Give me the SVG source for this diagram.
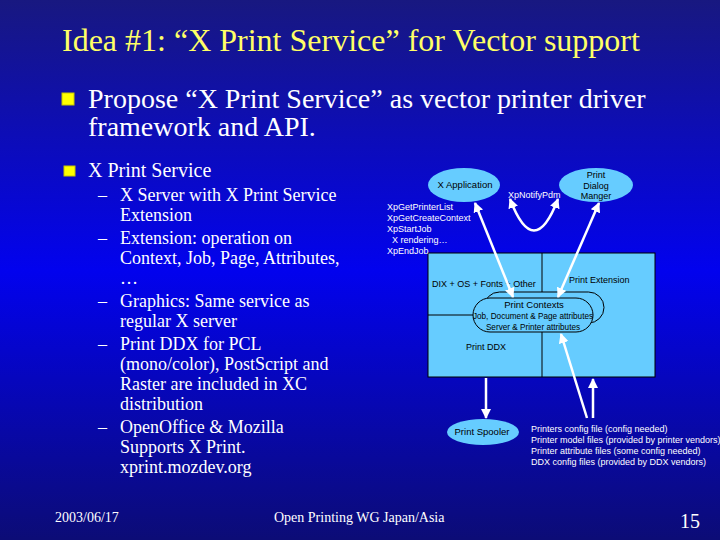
<svg xmlns="http://www.w3.org/2000/svg" width="720" height="540" viewBox="0 0 720 540">
<defs>
<linearGradient id="bg" x1="0" y1="0" x2="0" y2="1">
<stop offset="0" stop-color="#181880"/>
<stop offset="0.5" stop-color="#0202ee"/>
<stop offset="1" stop-color="#0c0c76"/>
</linearGradient>
<marker id="ah" viewBox="0 0 10 10" refX="9" refY="5" markerWidth="10" markerHeight="10" markerUnits="userSpaceOnUse" orient="auto-start-reverse">
<path d="M0,0 L10,5 L0,10 z" fill="#ffffff"/>
</marker>
<style>
.title{font-family:'Liberation Serif','Times New Roman',serif;font-size:32px;fill:#ffff66}
.body{font-family:'Liberation Serif','Times New Roman',serif;fill:#ffffff}
.l1{font-size:28px}
.l2{font-size:20px}
.l3{font-size:18px}
.sm{font-family:'Liberation Sans',Arial,sans-serif;font-size:9px;fill:#000000}
.wt{font-family:'Liberation Sans',Arial,sans-serif;font-size:9px;fill:#ffffff;font-variant-ligatures:none}
.big{font-size:9.5px}
.ctx{font-size:8.2px}
.box{fill:#66ccff;stroke:#000000;stroke-width:1}
.ell{fill:#66ccff;stroke:none}
.ln{stroke:#000000;stroke-width:1;fill:none}
.arr{stroke:#ffffff;stroke-width:2.5;fill:none}
.bul{fill:#ffff00;stroke:#c8c800;stroke-width:1}
</style>
</defs>
<rect x="0" y="0" width="720" height="540" fill="url(#bg)"/>

<g id="title">
<text class="title" x="62" y="51">Idea #1: “X Print Service” for Vector support</text>
</g>

<g id="bullets">
<rect class="bul" x="62" y="93" width="12" height="12"/>
<text class="body l1" x="88" y="108">Propose “X Print Service” as vector printer driver</text>
<text class="body l1" x="88" y="136">framework and API.</text>
<rect class="bul" x="64" y="166" width="11" height="10"/>
<text class="body l2" x="88" y="177">X Print Service</text>
<g class="body l3">
<text x="98" y="201">–</text>
<text x="120" y="201">X Server with X Print Service</text>
<text x="120" y="221">Extension</text>
<text x="98" y="244">–</text>
<text x="120" y="244">Extension: operation on</text>
<text x="120" y="264">Context, Job, Page, Attributes,</text>
<text x="120" y="284">…</text>
<text x="98" y="307">–</text>
<text x="120" y="307">Graphics: Same service as</text>
<text x="120" y="327">regular X server</text>
<text x="98" y="350">–</text>
<text x="120" y="350">Print DDX for PCL</text>
<text x="120" y="370">(mono/color), PostScript and</text>
<text x="120" y="390">Raster are included in XC</text>
<text x="120" y="410">distribution</text>
<text x="98" y="433">–</text>
<text x="120" y="433">OpenOffice &amp; Mozilla</text>
<text x="120" y="453">Supports X Print.</text>
<text x="120" y="473">xprint.mozdev.org</text>
</g>
</g>

<g id="xserver">
<rect class="box" x="428" y="253" width="227" height="124"/>
<line class="ln" x1="542" y1="253" x2="542" y2="377"/>
<line class="ln" x1="428" y1="315" x2="480" y2="315"/>
<text class="sm" x="432" y="287">DIX + OS + Fonts + Other</text>
<text class="sm" x="569" y="283">Print Extension</text>
<text class="sm" x="466" y="350">Print DDX</text>
</g>

<g id="print-contexts">
<rect class="box" x="484" y="292" width="120" height="31" rx="15.5"/>
<rect class="box" x="473" y="298" width="120" height="34" rx="17"/>
<text class="sm big" x="534" y="308" text-anchor="middle">Print Contexts</text>
<text class="sm ctx" x="533" y="319" text-anchor="middle">Job, Document &amp; Page attributes</text>
<text class="sm ctx" x="533" y="330" text-anchor="middle">Server &amp; Printer attributes</text>
</g>

<g id="x-application">
<ellipse class="ell" cx="464" cy="185" rx="36" ry="17"/>
<text class="sm big" x="465" y="188" text-anchor="middle">X Application</text>
</g>

<g id="print-dialog-manager">
<ellipse class="ell" cx="596" cy="185" rx="37" ry="17"/>
<text class="sm" x="596" y="178" text-anchor="middle">Print</text>
<text class="sm" x="596" y="189" text-anchor="middle">Dialog</text>
<text class="sm" x="596" y="199" text-anchor="middle">Manger</text>
</g>

<g id="print-spooler">
<ellipse class="ell" cx="483" cy="432" rx="36" ry="13"/>
<text class="sm big" x="482" y="435" text-anchor="middle">Print Spooler</text>
</g>

<g id="api-calls">
<text class="wt" x="387" y="210">XpGetPrinterList</text>
<text class="wt" x="387" y="221">XpGetCreateContext</text>
<text class="wt" x="387" y="232">XpStartJob</text>
<text class="wt" x="392" y="243">X rendering…</text>
<text class="wt" x="387" y="254">XpEndJob</text>
</g>

<g id="config-files">
<text class="wt" x="531" y="432">Printers config file (config needed)</text>
<text class="wt" x="531" y="443">Printer model files (provided by printer vendors)</text>
<text class="wt" x="531" y="454">Printer attribute files (some config needed)</text>
<text class="wt" x="531" y="465">DDX config files (provided by DDX vendors)</text>
</g>

<g id="connectors">
<path class="arr" d="M510,199 Q534,262 558,199" marker-start="url(#ah)" marker-end="url(#ah)"/>
<text class="wt" x="508" y="198">XpNotifyPdm</text>
<line class="arr" x1="475" y1="203" x2="513" y2="297" marker-start="url(#ah)" marker-end="url(#ah)"/>
<line class="arr" x1="599" y1="203" x2="558" y2="297" marker-start="url(#ah)" marker-end="url(#ah)"/>
<line class="arr" x1="486" y1="378" x2="486" y2="418" marker-end="url(#ah)"/>
<line class="arr" x1="587" y1="418" x2="561" y2="334" marker-end="url(#ah)"/>
<line class="arr" x1="593" y1="418" x2="593" y2="379" marker-end="url(#ah)"/>
</g>

<g id="footer">
<text class="body" x="55" y="522" font-size="14">2003/06/17</text>
<text class="body" x="274" y="522" font-size="14">Open Printing WG Japan/Asia</text>
<text class="body" x="680" y="528" font-size="20">15</text>
</g>
</svg>
